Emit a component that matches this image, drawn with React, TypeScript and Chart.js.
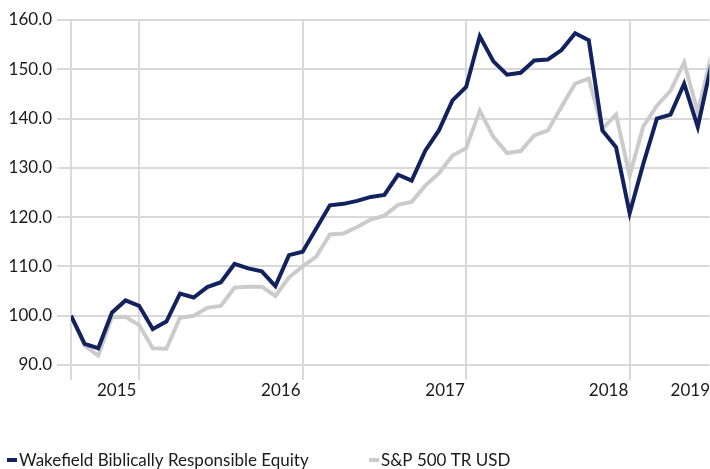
import React, { useEffect, useRef } from "react";
import { Chart, registerables } from "chart.js";

Chart.register(...registerables);

// Month-end observations, Jul 2015 .. Jun 2019
const months = [
  "2015-07", "2015-08", "2015-09", "2015-10", "2015-11", "2015-12",
  "2016-01", "2016-02", "2016-03", "2016-04", "2016-05", "2016-06",
  "2016-07", "2016-08", "2016-09", "2016-10", "2016-11", "2016-12",
  "2017-01", "2017-02", "2017-03", "2017-04", "2017-05", "2017-06",
  "2017-07", "2017-08", "2017-09", "2017-10", "2017-11", "2017-12",
  "2018-01", "2018-02", "2018-03", "2018-04", "2018-05", "2018-06",
  "2018-07", "2018-08", "2018-09", "2018-10", "2018-11", "2018-12",
  "2019-01", "2019-02", "2019-03", "2019-04", "2019-05", "2019-06",
];

const wakefield = [
  100.0, 94.3, 93.4, 100.6, 103.1, 102.0,
  97.3, 98.8, 104.5, 103.7, 105.8, 106.8,
  110.5, 109.6, 109.0, 106.0, 112.3, 113.0,
  117.7, 122.4, 122.7, 123.3, 124.1, 124.5,
  128.6, 127.4, 133.5, 137.6, 143.7, 146.4,
  156.7, 151.6, 148.9, 149.3, 151.8, 152.0,
  153.9, 157.3, 155.9, 137.6, 134.2, 120.8,
  130.8, 140.0, 140.8, 147.1, 138.3, 151.0,
];

const sp500 = [
  100.0, 93.9, 91.9, 99.7, 99.8, 98.1,
  93.4, 93.3, 99.6, 100.0, 101.6, 102.0,
  105.7, 105.9, 105.9, 104.0, 107.8, 110.0,
  112.0, 116.5, 116.7, 118.0, 119.5, 120.3,
  122.5, 123.1, 126.4, 128.9, 132.5, 134.0,
  141.6, 136.3, 133.0, 133.4, 136.6, 137.6,
  142.4, 147.1, 148.1, 137.9, 140.8, 128.4,
  138.4, 142.6, 145.6, 151.4, 141.3, 152.8,
];

const seriesNames = ["Wakefield Biblically Responsible Equity", "S&P 500 TR USD"];
const seriesColors = ["#12225e", "#cbcbcb"];

// x-axis: gridlines at year boundaries (month index), year labels at month index
const yearGridAt = [0, 5, 17, 29, 41];
const yearLabels = ["2015", "2016", "2017", "2018", "2019"];
const yearLabelAt = [3.35, 15.4, 27.45, 39.45, 45.45];

const yTicks = [90, 100, 110, 120, 130, 140, 150, 160];

const FONT = "Lato, 'Noto Sans', sans-serif";

const legendPlugin = {
  id: "customLegend",
  afterDraw(chart: any) {
    const ctx = chart.ctx;
    const xs = [7, 369];
    ctx.save();
    ctx.font = `17px ${FONT}`;
    ctx.textBaseline = "middle";
    ctx.textAlign = "left";
    chart.data.datasets.forEach((ds: any, i: number) => {
      const x = xs[i];
      const y = 460;
      ctx.fillStyle = ds.borderColor;
      ctx.fillRect(x, y - 2, 10, 4);
      ctx.fillStyle = "#1a1a1a";
      ctx.fillText(ds.label, x + 12, y + 1);
    });
    ctx.restore();
  },
};

export default function App() {
  const ref = useRef<HTMLCanvasElement | null>(null);

  useEffect(() => {
    document.body.style.margin = "0";
    if (!ref.current) return;
    const toPts = (arr: number[]) => arr.map((v, i) => ({ x: i, y: v }));
    const gridSet = new Set(yearGridAt);
    const chart = new Chart(ref.current, {
      type: "line",
      data: {
        labels: months,
        datasets: [
          {
            label: seriesNames[0],
            data: toPts(wakefield),
            borderColor: seriesColors[0],
            backgroundColor: seriesColors[0],
            borderWidth: 4,
            pointRadius: 0,
            tension: 0,
          },
          {
            label: seriesNames[1],
            data: toPts(sp500),
            borderColor: seriesColors[1],
            backgroundColor: seriesColors[1],
            borderWidth: 4,
            pointRadius: 0,
            tension: 0,
          },
        ],
      },
      options: {
        responsive: false,
        animation: false,
        layout: { padding: { top: 20, right: 0, bottom: 64, left: 0 } },
        plugins: {
          legend: { display: false },
          tooltip: { enabled: false },
        },
        scales: {
          x: {
            type: "linear",
            min: 0,
            max: 46.85,
            afterBuildTicks: (scale: any) => {
              const t: any[] = [];
              yearGridAt.forEach((v) => t.push({ value: v }));
              yearLabelAt.forEach((v) => t.push({ value: v }));
              scale.ticks = t;
            },
            afterFit: (scale: any) => {
              scale.height = 40;
            },
            border: { display: false },
            grid: {
              color: (c: any) => (c.tick && gridSet.has(c.tick.value) ? "#d9d9d9" : "rgba(0,0,0,0)"),
              lineWidth: 2,
              tickLength: 15,
            },
            ticks: {
              autoSkip: false,
              maxRotation: 0,
              padding: 0,
              color: "#1a1a1a",
              font: { family: FONT, size: 17 },
              callback: (v: any) => {
                const k = yearLabelAt.indexOf(Number(v));
                return k >= 0 ? yearLabels[k] : "";
              },
            },
          },
          y: {
            min: 90,
            max: 160,
            afterBuildTicks: (scale: any) => {
              scale.ticks = yTicks.map((v) => ({ value: v }));
            },
            afterFit: (scale: any) => {
              scale.width = 71;
            },
            border: { display: false },
            grid: {
              color: "#d9d9d9",
              lineWidth: 2,
              tickLength: 14,
            },
            ticks: {
              padding: 5,
              color: "#1a1a1a",
              font: { family: FONT, size: 17 },
              callback: (v: any) => Number(v).toFixed(1),
            },
          },
        },
      },
      plugins: [legendPlugin],
    });
    return () => chart.destroy();
  }, []);

  return (
    <div style={{ position: "absolute", left: 0, top: 0, width: 710, height: 469 }}>
      <canvas ref={ref} width={710} height={469} style={{ width: 710, height: 469 }} />
    </div>
  );
}
